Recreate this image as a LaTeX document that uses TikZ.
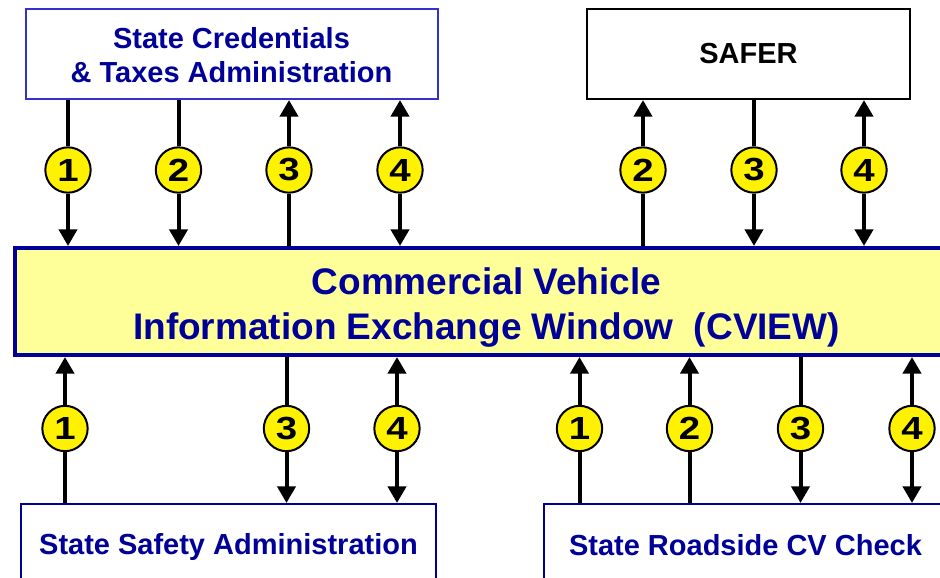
\documentclass[tikz,border=0pt]{standalone}
\usepackage{fontspec}
\usepackage{graphicx}
\setmainfont{Liberation Sans}
\usetikzlibrary{arrows.meta}
\definecolor{navy}{RGB}{0,0,153}
\definecolor{midblue}{RGB}{51,51,204}
\definecolor{paleyellow}{RGB}{255,255,153}
\newcommand{\dg}[1]{\scalebox{1.2}[1]{#1}}
\begin{document}
\begin{tikzpicture}[x=0.75pt,y=-0.75pt,
  ent/.style={draw, line width=1.5pt, fill=white, font=\bfseries\fontsize{21.75}{25.5}\selectfont, text=navy, align=center, inner sep=0pt},
  hub/.style={draw=navy, line width=3pt, fill=paleyellow, font=\bfseries\fontsize{27.75}{33.75}\selectfont, text=navy, inner sep=0pt},
  num/.style={circle, draw=black, line width=1.5pt, fill=yellow, minimum size=34pt, inner sep=0pt, font=\bfseries\fontsize{24}{24}\selectfont},
  flow/.style={line width=3pt},
  tip/.style={flow, -{Triangle[width=13.5pt,length=12.5pt]}}
]
\useasboundingbox (0,0) rectangle (940,578);

% boxes
\node[ent, draw=midblue, minimum width=309pt, minimum height=67.5pt] (sct) at (231.5,54) {\raisebox{-3.75pt}[\height][\depth]{\begin{tabular}{@{}c@{}}State Credentials\\\& Taxes Administration\end{tabular}}};
\node[ent, draw=black, text=black, minimum width=242pt, minimum height=67.5pt] (safer) at (748.5,54) {SAFER};
\node[hub, minimum width=707.25pt, minimum height=80.25pt] (cv) at (486.5,301.5) {\raisebox{-4.75pt}[\height][\depth]{\begin{tabular}{@{}c@{}}Commercial Vehicle\\Information Exchange Window\ \ (CVIEW)\end{tabular}}};
\node[ent, draw=navy, minimum width=311pt, minimum height=61.5pt] (ssa) at (228.5,545) {\raisebox{-1.5pt}[\height][\depth]{State Safety Administration}};
\node[ent, draw=navy, minimum width=302pt, minimum height=61.5pt] (src) at (745.5,545) {State Roadside CV Check};

% circles top
\node[num] (t1) at (68,170) {\dg{1}};
\node[num] (t2) at (178.5,170) {\dg{2}};
\node[num] (t3) at (289,170) {\dg{3}};
\node[num] (t4) at (400,170) {\dg{4}};
\node[num] (s2) at (643,170) {\dg{2}};
\node[num] (s3) at (754,170) {\dg{3}};
\node[num] (s4) at (864,170) {\dg{4}};
% circles bottom
\node[num] (b1) at (65,428.5) {\dg{1}};
\node[num] (b3) at (286.5,428.5) {\dg{3}};
\node[num] (b4) at (397,428.5) {\dg{4}};
\node[num] (r1) at (579.5,428.5) {\dg{1}};
\node[num] (r2) at (689.5,428.5) {\dg{2}};
\node[num] (r3) at (800.5,428.5) {\dg{3}};
\node[num] (r4) at (912,428.5) {\dg{4}};

% State Credentials & Taxes
\draw[flow] (sct.south -| t1) -- (t1); \draw[tip] (t1) -- (cv.north -| t1);
\draw[flow] (sct.south -| t2) -- (t2); \draw[tip] (t2) -- (cv.north -| t2);
\draw[flow] (cv.north -| t3) -- (t3);  \draw[tip] (t3) -- (sct.south -| t3);
\draw[tip] (t4) -- (sct.south -| t4);  \draw[tip] (t4) -- (cv.north -| t4);
% SAFER
\draw[flow] (cv.north -| s2) -- (s2);  \draw[tip] (s2) -- (safer.south -| s2);
\draw[flow] (safer.south -| s3) -- (s3); \draw[tip] (s3) -- (cv.north -| s3);
\draw[tip] (s4) -- (safer.south -| s4); \draw[tip] (s4) -- (cv.north -| s4);
% State Safety
\draw[flow] (ssa.north -| b1) -- (b1); \draw[tip] (b1) -- (cv.south -| b1);
\draw[flow] (cv.south -| b3) -- (b3);  \draw[tip] (b3) -- (ssa.north -| b3);
\draw[tip] (b4) -- (cv.south -| b4);   \draw[tip] (b4) -- (ssa.north -| b4);
% State Roadside
\draw[flow] (src.north -| r1) -- (r1); \draw[tip] (r1) -- (cv.south -| r1);
\draw[flow] (src.north -| r2) -- (r2); \draw[tip] (r2) -- (cv.south -| r2);
\draw[flow] (cv.south -| r3) -- (r3);  \draw[tip] (r3) -- (src.north -| r3);
\draw[tip] (r4) -- (cv.south -| r4);   \draw[tip] (r4) -- (src.north -| r4);
\end{tikzpicture}
\end{document}
